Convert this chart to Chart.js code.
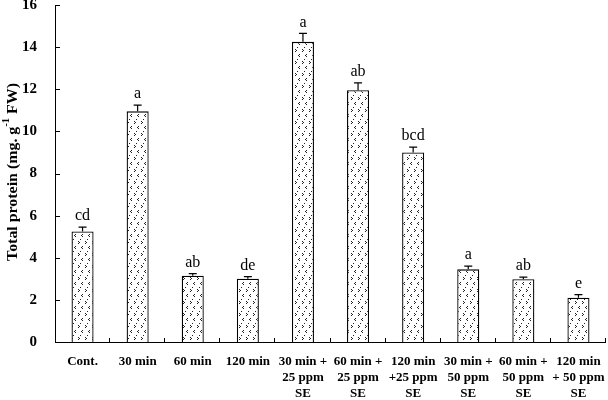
<!DOCTYPE html>
<html><head><meta charset="utf-8">
<script src="https://cdn.jsdelivr.net/npm/chart.js@4/dist/chart.umd.min.js"></script>
<style>html,body{margin:0;padding:0;background:#fff}canvas{display:block}</style>
</head><body>
<canvas id="c" width="608" height="400"></canvas>
<script>
const categories = [["Cont."],["30 min"],["60 min"],["120 min"],["30 min +","25 ppm","SE"],["60 min +","25 ppm","SE"],["120 min","+25 ppm","SE"],["30 min +","50 ppm","SE"],["60 min +","50 ppm","SE"],["120 min","+ 50 ppm","SE"]];
const protein = [5.25, 10.95, 3.15, 3.0, 14.25, 11.95, 9.0, 3.45, 2.98, 2.1];
const errors = [0.2, 0.3, 0.1, 0.1, 0.4, 0.35, 0.25, 0.15, 0.1, 0.15];
const letters = ["cd","a","ab","de","a","ab","bcd","a","ab","e"];
const yTicks = [0,2,4,6,8,10,12,14,16];

function makePattern(){
  const p = document.createElement('canvas');
  p.width = 7; p.height = 12;
  const g = p.getContext('2d');
  g.fillStyle = '#fff'; g.fillRect(0,0,7,12);
  g.fillStyle = '#222';
  const px = [[1,1],[2,2],[1,3],[5,6],[4,7],[5,8],[3,11]];
  px.forEach(([x,y])=>g.fillRect(x,y,1,1));
  return g.createPattern(p,'repeat');
}
const ctx0 = document.getElementById('c').getContext('2d');
const pattern = makePattern();

const extras = {
  id:'extras',
  afterDatasetsDraw(chart){
    const ctx = chart.ctx, x = chart.scales.x, y = chart.scales.y;
    const meta = chart.getDatasetMeta(0);
    ctx.save();
    ctx.strokeStyle = '#000'; ctx.lineWidth = 1.2;
    protein.forEach((v,i)=>{
      const cx = meta.data[i].x;
      const yt = y.getPixelForValue(v), ye = y.getPixelForValue(v+errors[i]);
      ctx.beginPath();
      ctx.moveTo(cx, yt); ctx.lineTo(cx, ye);
      ctx.moveTo(cx-4, ye); ctx.lineTo(cx+4, ye);
      ctx.stroke();
      ctx.fillStyle = '#000';
      ctx.font = '16px "Liberation Serif"';
      ctx.textAlign = 'center'; ctx.textBaseline = 'bottom';
      ctx.fillText(letters[i], cx, ye - 3);
    });
    const ca = chart.chartArea;
    ctx.lineWidth = 1; ctx.strokeStyle = '#000';
    ctx.beginPath();
    ctx.moveTo(ca.left+0.5, ca.top); ctx.lineTo(ca.left+0.5, ca.bottom+0.5);
    ctx.lineTo(ca.right, ca.bottom+0.5);
    yTicks.forEach(t=>{const py=Math.round(y.getPixelForValue(t))+0.5; ctx.moveTo(ca.left, py); ctx.lineTo(ca.left+5, py);});
    const n = protein.length, w = (ca.right-ca.left)/n;
    for(let i=1;i<=n;i++){const px=Math.round(ca.left+i*w)-0.5; ctx.moveTo(px, ca.bottom); ctx.lineTo(px, ca.bottom-4);}
    ctx.stroke();
    // y title
    ctx.save();
    ctx.translate(13, 172);
    ctx.rotate(-Math.PI/2);
    const big = 'bold 15px "Liberation Serif"', small = 'bold 10px "Liberation Serif"';
    const p1 = 'Total protein (mg. g', p2 = '-1', p3 = ' FW)';
    ctx.font = big; const w1 = ctx.measureText(p1).width, w3 = ctx.measureText(p3).width;
    ctx.font = small; const w2 = ctx.measureText(p2).width;
    const total = w1+w2+w3, target = 178;
    ctx.scale(target/total, 1);
    ctx.textBaseline = 'middle'; ctx.textAlign = 'left'; ctx.fillStyle = '#000';
    let sx = -total/2;
    ctx.font = big; ctx.fillText(p1, sx, 0); sx += w1;
    ctx.font = small; ctx.fillText(p2, sx, -7); sx += w2;
    ctx.font = big; ctx.fillText(p3, sx, 0);
    ctx.restore();
    ctx.restore();
  }
};

new Chart(ctx0, {
  type:'bar',
  data:{labels:categories, datasets:[{data:protein, backgroundColor:pattern, borderColor:'#000', borderWidth:1.3, categoryPercentage:1, barPercentage:0.4}]},
  options:{
    responsive:false, animation:false,
    layout:{padding:{left:0,top:5,right:2,bottom:0}},
    plugins:{legend:{display:false}, tooltip:{enabled:false}},
    scales:{
      x:{grid:{display:false}, border:{display:false},
         ticks:{color:'#000', font:{family:'"Liberation Serif"', size:13, weight:'bold', lineHeight:1.23}, padding:4, maxRotation:0, autoSkip:false},
         afterFit(s){s.height = 58; s.paddingLeft = 0; s.paddingRight = 0;}},
      y:{min:0,max:16, grid:{display:false}, border:{display:false},
         afterBuildTicks(s){s.ticks = yTicks.map(v=>({value:v}));},
         ticks:{color:'#000', font:{family:'"Liberation Serif"', size:15, weight:'bold'}, padding:10},
         afterFit(s){s.width = 55; s.paddingTop = 0; s.paddingBottom = 0;}}
    }
  },
  plugins:[extras]
});
</script>
</body></html>
